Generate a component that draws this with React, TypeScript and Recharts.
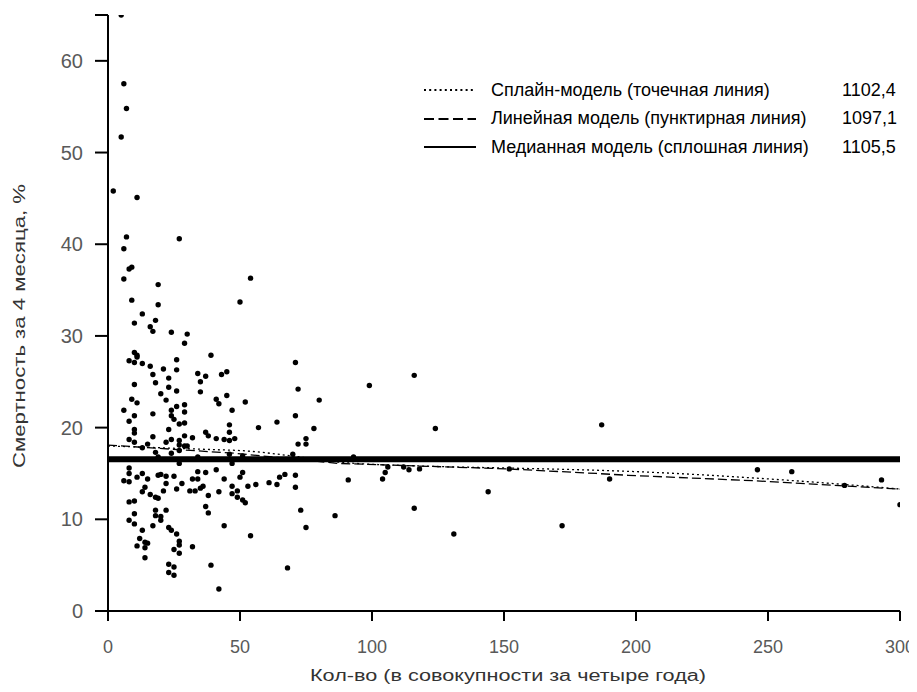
import React from 'react';
import { ComposedChart, Scatter, Line, XAxis, YAxis, Legend } from 'recharts';

// observations: [кол-во, смертность %]
const points: [number, number][] = [
  [5, 65.0], [6, 57.5], [7, 54.8], [5, 51.7], [2, 45.8], [11, 45.1], [7, 40.8], [27, 40.6],
  [6, 39.5], [8, 37.3], [9, 37.5], [6, 36.2], [19, 35.6], [9, 33.9], [19, 33.4], [13, 32.4],
  [10, 31.4], [18, 31.7], [16, 31.0], [17, 30.5], [24, 30.4], [30, 30.2], [29, 29.2], [39, 27.9],
  [10, 28.2], [11, 27.9], [11, 27.7], [8, 27.3], [10, 27.1], [13, 27.0], [26, 27.4], [16, 26.7],
  [21, 26.4], [26, 26.3], [17, 25.8], [23, 25.4], [34, 25.9], [37, 25.6], [35, 25.0], [18, 24.9],
  [10, 24.7], [23, 24.4], [26, 24.0], [20, 23.7], [35, 23.9], [9, 23.1], [11, 22.7], [22, 23.0],
  [41, 23.1], [42, 22.6], [6, 21.9], [29, 22.5], [26, 22.3], [24, 21.9], [10, 21.3], [17, 21.5],
  [24, 21.3], [25, 20.9], [29, 21.7], [8, 20.7], [29, 20.5], [10, 19.8], [23, 19.8],
  [10, 19.4], [17, 19.0], [24, 18.7], [27, 20.4], [29, 19.1], [32, 18.9], [37, 19.5], [38, 19.1],
  [41, 18.8], [8, 18.7], [10, 18.4], [15, 18.2], [13, 17.8], [22, 18.4], [27, 18.6], [27, 18.1],
  [29, 18.0], [30, 18.0], [18, 17.3], [24, 17.2], [27, 17.5], [19, 16.8], [27, 16.1], [34, 16.8],
  [8, 15.6], [8, 15.0], [6, 14.2], [8, 14.1], [11, 14.6], [13, 15.0], [15, 14.4], [19, 14.8],
  [20, 14.9], [22, 14.7], [22, 13.9], [25, 14.7], [28, 13.9], [26, 13.3], [32, 14.4], [34, 15.2],
  [34, 14.4], [37, 15.1], [41, 15.4], [14, 13.5], [13, 13.0], [21, 13.1], [16, 12.7], [18, 12.4],
  [19, 12.3], [31, 13.1], [33, 13.1], [35, 13.4], [36, 13.6], [42, 13.0], [38, 12.6], [8, 11.9],
  [10, 12.0], [18, 11.0], [18, 10.4], [22, 11.0], [20, 10.3], [20, 9.9], [37, 11.4], [38, 10.7],
  [8, 9.9], [10, 9.5], [10, 10.6], [17, 9.3], [13, 8.8], [23, 9.1], [24, 8.8], [26, 8.4],
  [12, 7.9], [27, 7.6], [27, 7.2], [14, 7.5], [15, 7.4], [11, 7.1], [14, 6.9], [32, 7.0],
  [25, 6.7], [27, 6.3], [14, 5.8], [23, 5.1], [25, 4.8], [23, 4.2], [25, 3.9], [39, 5.0], [42, 2.4],
  [54, 36.3], [50, 33.7], [71, 27.1], [43, 25.8], [45, 26.1], [45, 23.5], [52, 22.8], [47, 21.9],
  [72, 24.2], [80, 23.0], [71, 21.3], [46, 20.3], [57, 20.0], [64, 20.6], [78, 19.9],
  [46, 19.5], [46, 18.6], [44, 18.7], [48, 18.8], [72, 18.2], [75, 18.8], [75, 18.2], [46, 17.1],
  [51, 16.9], [70, 17.1], [47, 16.1], [51, 15.1], [50, 14.6], [44, 14.4], [47, 13.6], [49, 13.1],
  [47, 12.8], [49, 12.4], [51, 12.1], [52, 11.8], [53, 13.6], [56, 13.8], [61, 14.0], [64, 13.8],
  [65, 14.6], [67, 14.9], [71, 14.8], [71, 13.5], [73, 11.0], [75, 9.1], [86, 10.4], [44, 9.3],
  [54, 8.2], [68, 4.7],
  [99, 24.6], [116, 25.7], [124, 19.9], [187, 20.3], [93, 16.8], [106, 15.7], [105, 15.1], [104, 14.4],
  [91, 14.3], [112, 15.7], [114, 15.4], [118, 15.5], [152, 15.5], [190, 14.4], [144, 13.0], [116, 11.2],
  [172, 9.3], [131, 8.4],
  [246, 15.4], [259, 15.2], [279, 13.7], [293, 14.3], [300, 11.6],
];

// model curves
const splineX = [0, 20, 40, 50, 70, 85, 120, 150, 185, 200, 245, 270, 300];
const splineY = [18.0, 17.8, 17.6, 17.5, 16.9, 16.3, 15.8, 15.6, 15.35, 15.2, 14.5, 14.0, 13.3];
const linearX = [0, 48, 87, 151, 185, 197, 245, 300];
const linearY = [18.1, 17.2, 16.1, 15.5, 15.0, 14.8, 14.2, 13.3];
const medianX = [0, 300];
const medianY = [16.55, 16.55];

const xTicks = [0, 50, 100, 150, 200, 250, 300];
const yTicks = [0, 10, 20, 30, 40, 50, 60, 65];

const legendNames = [
  'Сплайн-модель (точечная линия)',
  'Линейная модель (пунктирная линия)',
  'Медианная модель (сплошная линия)',
];
const legendValues = ['1102,4', '1097,1', '1105,5'];
const legendDash = ['2 3.2', '10 4.5', undefined];

const font = '"Liberation Sans", Arial, sans-serif';

const scatterData = points.map(([x, y]) => ({ x, y }));
const toRows = (xs: number[], ys: number[]) => xs.map((x, i) => ({ x, y: ys[i] }));

const Dot = (props: any) => <circle cx={props.cx} cy={props.cy} r={2.7} fill="#000" />;

const XTick = (props: any) => (
  <text
    x={props.x}
    y={props.y}
    dy={30}
    textAnchor="middle"
    fontSize={18}
    fill="#595959"
    fontFamily={font}
  >
    {props.payload.value}
  </text>
);

const YTitle = () => (
  <text
    x={17}
    y={318}
    transform="rotate(-90, 17, 318)"
    textAnchor="middle"
    fontSize={16}
    fill="#333"
    fontFamily={font}
    textLength={284}
    lengthAdjust="spacingAndGlyphs"
  >
    Смертность за 4 месяца, %
  </text>
);

const XTitle = () => (
  <text
    x={500}
    y={673}
    textAnchor="middle"
    fontSize={16}
    fill="#333"
    fontFamily={font}
    textLength={396}
    lengthAdjust="spacingAndGlyphs"
  >
    Кол-во (в совокупности за четыре года)
  </text>
);

const LegendBox = () => (
  <div style={{ fontFamily: font, fontSize: 18, color: '#000' }}>
    {legendNames.map((name, i) => (
      <div key={name} style={{ display: 'flex', alignItems: 'center', height: 28.5 }}>
        <svg width={52} height={8} style={{ marginRight: 15 }}>
          <line x1={0} y1={4} x2={52} y2={4} stroke="#000" strokeWidth={2} strokeDasharray={legendDash[i]} />
        </svg>
        <span style={{ width: 351, whiteSpace: 'nowrap' }}>{name}</span>
        <span>{legendValues[i]}</span>
      </div>
    ))}
  </div>
);

export default function App() {
  return (
    <div>
      <style>{'.recharts-surface { overflow: visible; }'}</style>
      <ComposedChart
        width={909}
        height={676}
        margin={{ top: 7, right: 17, left: 0, bottom: 0 }}
        style={{ fontFamily: font }}
      >
        <XAxis
          type="number"
          dataKey="x"
          domain={[0, 300]}
          ticks={xTicks}
          allowDataOverflow
          height={73}
          axisLine={{ stroke: '#000', strokeWidth: 2 }}
          tickLine={{ stroke: '#000', strokeWidth: 2 }}
          tickSize={10}
          tick={<XTick />}
          label={<XTitle />}
        />
        <YAxis
          type="number"
          dataKey="y"
          domain={[0, 65]}
          ticks={yTicks}
          allowDataOverflow
          width={100}
          axisLine={{ stroke: '#000', strokeWidth: 2 }}
          tickLine={{ stroke: '#000', strokeWidth: 2 }}
          tickSize={13}
          tickMargin={12}
          tick={{ fontSize: 20, fill: '#595959', fontFamily: font }}
          tickFormatter={(v: number) => (v === 65 ? '' : String(v))}
          label={<YTitle />}
        />
        <Legend
          layout="horizontal"
          verticalAlign="middle"
          content={<LegendBox />}
          wrapperStyle={{ position: 'absolute', top: 68, left: 416, width: 500 }}
        />
        <Scatter data={scatterData} dataKey="y" shape={<Dot />} isAnimationActive={false} legendType="none" />
        <Line
          data={toRows(medianX, medianY)}
          dataKey="y"
          type="linear"
          stroke="#000"
          strokeWidth={6}
          dot={false}
          activeDot={false}
          isAnimationActive={false}
          legendType="none"
        />
        <Line
          data={toRows(linearX, linearY)}
          dataKey="y"
          type="linear"
          stroke="#000"
          strokeWidth={1.3}
          strokeDasharray="9 4"
          dot={false}
          activeDot={false}
          isAnimationActive={false}
          legendType="none"
        />
        <Line
          data={toRows(splineX, splineY)}
          dataKey="y"
          type="monotone"
          stroke="#000"
          strokeWidth={1.3}
          strokeDasharray="2 3"
          dot={false}
          activeDot={false}
          isAnimationActive={false}
          legendType="none"
        />
      </ComposedChart>
    </div>
  );
}
